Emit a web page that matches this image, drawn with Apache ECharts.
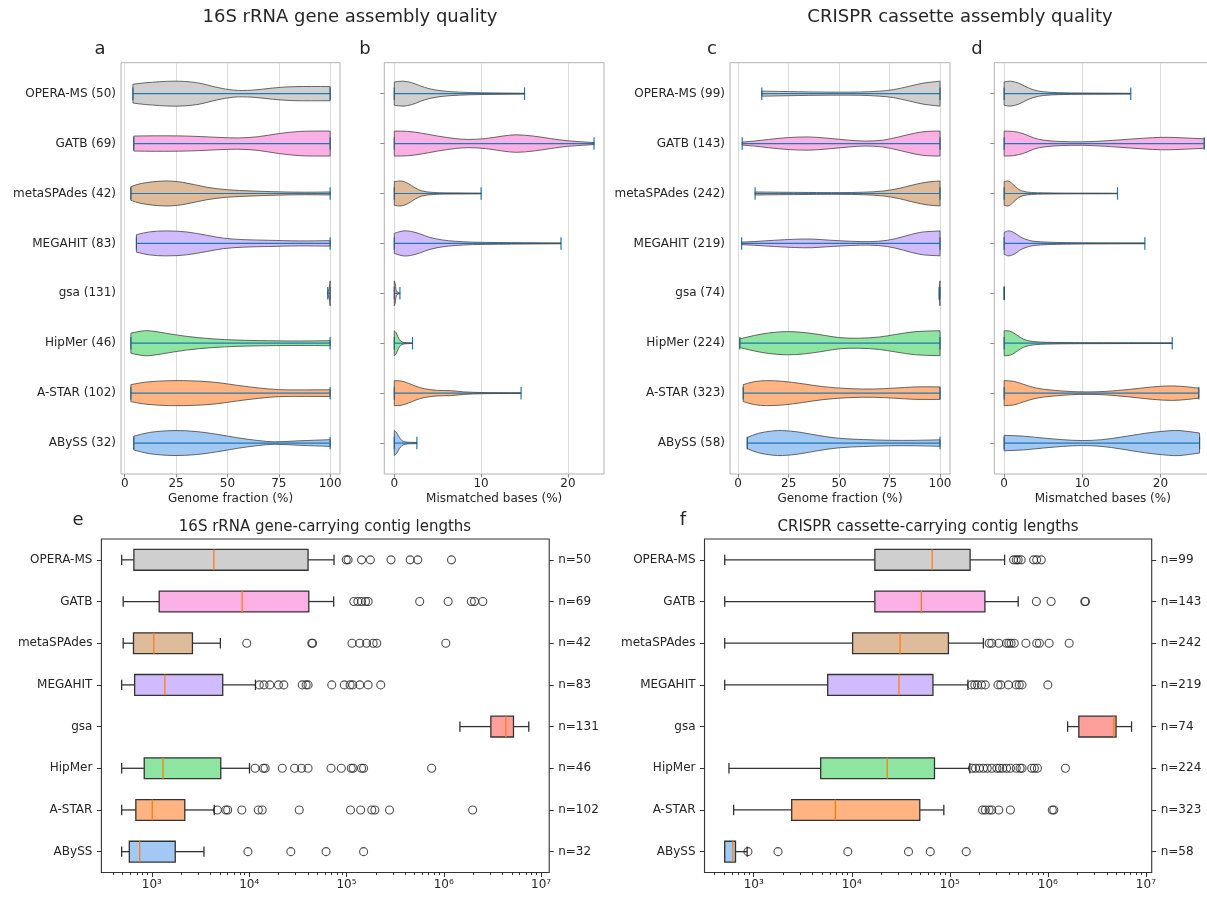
<!DOCTYPE html>
<html>
<head>
<meta charset="utf-8">
<script src="https://cdn.jsdelivr.net/npm/echarts@6/dist/echarts.min.js"></script>
<style>
  html, body { margin: 0; padding: 0; background: #ffffff; }
  #chart { width: 1207px; height: 897px; }
</style>
</head>
<body>
<div id="chart"></div>
<script>
// ---------------- data ----------------
const assemblers = ['OPERA-MS', 'GATB', 'metaSPAdes', 'MEGAHIT', 'gsa', 'HipMer', 'A-STAR', 'ABySS'];
const contigCounts16S = [50, 69, 42, 83, 131, 46, 102, 32];
const contigCountsCRISPR = [99, 143, 242, 219, 74, 224, 323, 58];

const fractionTicks = [0, 25, 50, 75, 100];
const mismatchTicks = [0, 10, 20];
const lengthTicks = [1e3, 1e4, 1e5, 1e6, 1e7];
const lengthTickLabels = ['10³', '10⁴', '10⁵', '10⁶', '10⁷'];

// violin profiles: [value, relative density] from the lowest to the highest observation
const fraction16S = [
  [[4, 0.75], [10, 0.87], [24, 1.0], [35, 0.88], [45, 0.5], [53, 0.28], [62, 0.28], [72, 0.45], [82, 0.56], [100, 0.57]],
  [[4.4, 0.6], [15, 0.62], [30, 0.6], [45, 0.5], [55, 0.45], [65, 0.55], [75, 0.8], [85, 0.97], [92, 1.0], [100, 1.0]],
  [[3, 0.55], [8, 0.8], [19, 1.0], [28, 0.9], [40, 0.5], [50, 0.3], [62, 0.2], [75, 0.13], [88, 0.1], [100, 0.12]],
  [[5.7, 0.7], [12, 0.92], [20, 1.0], [30, 0.92], [40, 0.65], [48, 0.42], [58, 0.3], [70, 0.25], [85, 0.2], [100, 0.22]],
  [[98.8, 0.05], [99.5, 0.4], [100, 1.0]],
  [[3, 0.8], [8, 0.97], [12, 1.0], [20, 0.8], [30, 0.55], [42, 0.36], [55, 0.25], [70, 0.2], [85, 0.18], [100, 0.2]],
  [[3, 0.68], [10, 0.88], [22, 1.0], [35, 0.97], [45, 0.85], [55, 0.62], [65, 0.42], [75, 0.28], [88, 0.26], [100, 0.27]],
  [[4.4, 0.55], [12, 0.85], [24, 1.0], [35, 0.92], [45, 0.7], [55, 0.42], [65, 0.2], [73, 0.1], [85, 0.18], [100, 0.27]]
];
const mismatch16S = [
  [[0, 0.93], [1, 1.0], [2, 0.88], [3, 0.62], [4, 0.4], [5.5, 0.22], [7.5, 0.12], [10, 0.07], [12.5, 0.05], [15, 0.03]],
  [[0, 1.0], [1.5, 0.98], [3, 0.85], [5, 0.6], [7, 0.4], [8.5, 0.33], [10.5, 0.4], [12.5, 0.6], [14, 0.7], [16, 0.6], [18, 0.4], [20, 0.22], [23, 0.08]],
  [[0, 0.95], [0.8, 1.0], [1.6, 0.8], [2.4, 0.45], [3.2, 0.2], [4.5, 0.08], [6, 0.05], [8, 0.04], [10, 0.03]],
  [[0, 0.8], [1, 1.0], [2, 0.95], [3, 0.75], [4, 0.5], [5.5, 0.28], [7, 0.17], [9, 0.1], [12, 0.07], [15, 0.05], [19.2, 0.03]],
  [[0, 1.0], [0.1, 0.8], [0.2, 0.3], [0.35, 0.1], [0.65, 0.03]],
  [[0, 1.0], [0.2, 0.85], [0.4, 0.55], [0.6, 0.28], [0.9, 0.1], [1.4, 0.04], [2.1, 0.02]],
  [[0, 1.0], [0.8, 0.97], [1.6, 0.8], [2.5, 0.55], [3.5, 0.35], [5, 0.22], [6.5, 0.2], [8, 0.1], [10, 0.05], [12, 0.03], [14.6, 0.02]],
  [[0, 1.0], [0.25, 0.85], [0.5, 0.55], [0.75, 0.3], [1, 0.15], [1.5, 0.07], [2, 0.06], [2.6, 0.04]]
];
const fractionCRISPR = [
  [[11.7, 0.2], [20, 0.18], [30, 0.15], [40, 0.13], [50, 0.12], [60, 0.13], [70, 0.2], [77, 0.32], [85, 0.6], [92, 0.85], [100, 1.0]],
  [[2, 0.12], [8, 0.2], [15, 0.33], [25, 0.48], [35, 0.53], [45, 0.42], [55, 0.27], [63, 0.2], [72, 0.28], [80, 0.55], [88, 0.85], [94, 0.98], [100, 1.0]],
  [[8.4, 0.12], [20, 0.1], [35, 0.08], [50, 0.07], [62, 0.1], [72, 0.2], [80, 0.42], [87, 0.7], [94, 0.92], [100, 1.0]],
  [[1.7, 0.1], [8, 0.15], [18, 0.25], [28, 0.33], [36, 0.35], [46, 0.25], [56, 0.17], [65, 0.14], [74, 0.25], [82, 0.55], [90, 0.88], [100, 1.0]],
  [[99.6, 0.3], [100, 1.0]],
  [[0.8, 0.35], [8, 0.62], [15, 0.82], [24, 0.93], [33, 0.85], [42, 0.65], [50, 0.45], [60, 0.4], [70, 0.5], [78, 0.7], [88, 0.93], [100, 1.0]],
  [[2.5, 0.68], [8, 0.92], [14, 1.0], [22, 0.95], [32, 0.75], [42, 0.52], [55, 0.36], [67, 0.33], [77, 0.4], [88, 0.5], [100, 0.5]],
  [[4.5, 0.45], [10, 0.78], [17, 0.97], [22, 1.0], [30, 0.88], [40, 0.6], [50, 0.38], [62, 0.28], [75, 0.22], [88, 0.22], [100, 0.26]]
];
const mismatchCRISPR = [
  [[0, 0.93], [0.8, 1.0], [1.8, 0.85], [2.8, 0.55], [3.8, 0.3], [5, 0.15], [7, 0.08], [10, 0.05], [13, 0.04], [16.2, 0.03]],
  [[0, 1.0], [1.2, 0.97], [2.5, 0.78], [3.8, 0.45], [5, 0.28], [7, 0.17], [10, 0.14], [13, 0.22], [16, 0.35], [19, 0.47], [21, 0.5], [23.5, 0.44], [25.6, 0.38]],
  [[0, 0.95], [0.5, 1.0], [1.1, 0.75], [1.7, 0.4], [2.4, 0.18], [3.5, 0.08], [5, 0.05], [8, 0.03], [11, 0.03], [14.5, 0.02]],
  [[0, 0.88], [0.6, 1.0], [1.3, 0.85], [2, 0.55], [2.8, 0.32], [3.8, 0.17], [5.5, 0.1], [8, 0.06], [12, 0.04], [18, 0.03]],
  [[0, 0.55], [0.03, 0.45]],
  [[0, 1.0], [0.7, 0.97], [1.4, 0.75], [2.1, 0.45], [2.8, 0.25], [3.8, 0.13], [5.5, 0.07], [9, 0.04], [14, 0.03], [21.5, 0.02]],
  [[0, 1.0], [1.2, 0.95], [2.5, 0.7], [4, 0.42], [6, 0.25], [8.5, 0.13], [10.5, 0.1], [13, 0.14], [16, 0.3], [19, 0.5], [21.5, 0.58], [23.5, 0.5], [24.9, 0.4]],
  [[0, 0.62], [2.5, 0.55], [5, 0.4], [7.5, 0.27], [10, 0.2], [12.5, 0.27], [15, 0.48], [18, 0.78], [21, 0.98], [22.5, 1.0], [25, 0.8]]
];

// box statistics: [lower whisker, Q1, median, Q3, upper whisker] in bp
const lengthStats16S = [
  [489, 653, 4335, 40270, 74500],
  [507, 1189, 8475, 41000, 73800],
  [507, 647, 1047, 2612, 5058],
  [489, 665, 1361, 5346, 11600],
  [1466000, 3050000, 4350000, 5210000, 7480000],
  [489, 834, 1300, 5105, 10070],
  [489, 684, 1009, 2178, 4375],
  [489, 586, 748, 1738, 3428]
];
const lengthOutliers16S = [
  [99600, 104000, 143000, 176000, 287000, 452000, 541000, 1200000],
  [119000, 131000, 143000, 157000, 167000, 566000, 1110000, 1920000, 2070000, 2520000],
  [9440, 44000, 44900, 114000, 137000, 161000, 188000, 205000, 1050000],
  [12700, 14200, 16300, 20000, 22700, 35100, 38500, 40300, 70600, 95000, 109000, 116000, 137000, 167000, 225000],
  [],
  [11500, 14000, 14600, 21900, 29300, 34500, 40300, 69400, 88500, 112000, 117000, 143000, 150000, 750000],
  [4710, 5750, 6010, 8400, 12400, 13600, 32700, 110000, 140000, 182000, 196000, 277000, 1980000],
  [9710, 26800, 61700, 150000]
];
const lengthStatsCRISPR = [
  [506, 17200, 66100, 161000, 362000],
  [506, 17200, 51300, 228000, 498000],
  [506, 10200, 31100, 96800, 220000],
  [506, 5680, 30300, 67300, 153000],
  [1590000, 2070000, 4700000, 4960000, 7140000],
  [559, 4820, 23000, 69800, 160000],
  [624, 2440, 6810, 49400, 86900],
  [506, 506, 612, 652, 857]
];
const lengthOutliersCRISPR = [
  [447000, 476000, 498000, 535000, 716000, 770000, 858000],
  [764000, 1080000, 2380000, 2420000],
  [252000, 268000, 316000, 379000, 400000, 422000, 454000, 597000, 770000, 820000, 1030000, 1650000],
  [167000, 180000, 192000, 210000, 230000, 310000, 331000, 396000, 476000, 511000, 545000, 1000000],
  [],
  [170000, 183000, 200000, 220000, 241000, 268000, 302000, 322000, 346000, 379000, 415000, 476000, 521000, 545000, 684000, 729000, 783000, 1510000],
  [216000, 230000, 252000, 268000, 316000, 415000, 1110000, 1150000],
  [873, 1770, 9120, 37900, 63200, 147000]
];

// ---------------- styling ----------------
const FONT = 'DejaVu Sans';
const TEXT = '#262626';
const palette = ['#cfcfcf', '#fab0e4', '#debb9b', '#d0bbff', '#ff9f9b', '#8de5a1', '#ffb482', '#a1c9f4'];
const rowIdx = assemblers.map((_, i) => i);

// minor ticks of the log axes (2..9 times each power of ten)
const minorLengthTicks = [];
for (let e = 2; e <= 6; e++) {
  for (let m = 2; m <= 9; m++) minorLengthTicks.push(m * Math.pow(10, e));
}

const chart = echarts.init(document.getElementById('chart'), null, { renderer: 'canvas' });

function violinRenderer(profiles) {
  return function (params, api) {
    const row = api.value(1);
    const prof = profiles[row];
    const half = 0.25;
    const top = prof.map(p => api.coord([p[0], row - p[1] * half]));
    const bot = prof.map(p => api.coord([p[0], row + p[1] * half])).reverse();
    const pts = [top[0]].concat(top, [top[top.length - 1]], [bot[0]], bot, [bot[bot.length - 1]]);
    const lo = prof[0][0], hi = prof[prof.length - 1][0];
    const a = api.coord([lo, row]), b = api.coord([hi, row]);
    const capLen = 0.125;
    const c1 = api.coord([lo, row - capLen]), c2 = api.coord([lo, row + capLen]);
    const c3 = api.coord([hi, row - capLen]), c4 = api.coord([hi, row + capLen]);
    const blue = '#1f77b4';
    return {
      type: 'group',
      children: [
        { type: 'polygon', shape: { points: pts, smooth: 0.35 }, style: { fill: palette[row], stroke: null } },
        { type: 'line', shape: { x1: a[0], y1: a[1], x2: b[0], y2: b[1] }, style: { stroke: blue, lineWidth: 1.2 } },
        { type: 'line', shape: { x1: c1[0], y1: c1[1], x2: c2[0], y2: c2[1] }, style: { stroke: blue, lineWidth: 1.2 } },
        { type: 'line', shape: { x1: c3[0], y1: c3[1], x2: c4[0], y2: c4[1] }, style: { stroke: blue, lineWidth: 1.2 } },
        { type: 'polygon', shape: { points: pts, smooth: 0.35 }, style: { fill: null, stroke: 'rgba(70,70,70,0.8)', lineWidth: 1 } }
      ]
    };
  };
}

function boxRenderer(stats) {
  return function (params, api) {
    const row = api.value(1);
    const s = stats[row];
    const hb = 0.25, hc = 0.125;
    const p = (v, dy) => api.coord([v, row + dy]);
    const edge = '#333333';
    const ln = (u, w, color, width) => ({
      type: 'line', shape: { x1: u[0], y1: u[1], x2: w[0], y2: w[1] },
      style: { stroke: color || edge, lineWidth: width || 1.3 }
    });
    const q1t = p(s[1], -hb), q3b = p(s[3], hb);
    return {
      type: 'group',
      children: [
        ln(p(s[0], 0), p(s[1], 0)),
        ln(p(s[3], 0), p(s[4], 0)),
        ln(p(s[0], -hc), p(s[0], hc)),
        ln(p(s[4], -hc), p(s[4], hc)),
        { type: 'rect', shape: { x: q1t[0], y: q1t[1], width: q3b[0] - q1t[0], height: q3b[1] - q1t[1] },
          style: { fill: palette[row], stroke: edge, lineWidth: 1.3 } },
        ln(p(s[2], -hb), p(s[2], hb), '#ff7f0e', 1.3)
      ]
    };
  };
}

const topGridBase = { top: 62.7, height: 411.3, show: true, borderColor: '#b3b3b3', borderWidth: 1, containLabel: false, outerBoundsMode: 'none' };
const botGridBase = { top: 539, height: 333.5, show: true, borderColor: '#333333', borderWidth: 1.1, containLabel: false, outerBoundsMode: 'none' };

const grids = [
  Object.assign({ left: 121, width: 219 }, topGridBase),
  Object.assign({ left: 384.3, width: 219.7 }, topGridBase),
  Object.assign({ left: 730, width: 220 }, topGridBase),
  Object.assign({ left: 994.3, width: 217 }, topGridBase),
  Object.assign({ left: 101.4, width: 447.8 }, botGridBase),
  Object.assign({ left: 704.5, width: 447.2 }, botGridBase)
];

const labelStyle = { fontFamily: FONT, fontSize: 12, color: TEXT };
const hiddenLine = { show: false, onZero: false };

function topX(gridIndex, min, max, ticks, name) {
  return {
    type: 'value', gridIndex, min, max, name, nameLocation: 'middle', nameGap: 19, position: 'bottom',
    nameTextStyle: labelStyle,
    axisLine: hiddenLine,
    axisTick: { show: true, length: 3.5, customValues: ticks, lineStyle: { color: '#8c8c8c' } },
    axisLabel: Object.assign({ customValues: ticks, margin: 4 }, labelStyle),
    splitLine: { show: true, lineStyle: { color: '#dcdcdc', width: 1 } }
  };
}
function topY(gridIndex, labels) {
  return {
    type: 'value', gridIndex, min: -0.62, max: 7.62, inverse: true, position: 'left',
    axisLine: hiddenLine, splitLine: { show: false },
    axisTick: { show: !labels, length: 4, customValues: rowIdx, lineStyle: { color: '#8c8c8c' } },
    axisLabel: Object.assign({ show: !!labels, customValues: rowIdx, margin: 5,
      formatter: v => (labels ? labels[Math.round(v)] : '') }, labelStyle)
  };
}
function logX(gridIndex, min, max) {
  return {
    type: 'log', logBase: 10, gridIndex, min, max, position: 'bottom',
    axisLine: hiddenLine, splitLine: { show: false }, minorSplitLine: { show: false },
    axisTick: { show: true, length: 4.5, customValues: lengthTicks, lineStyle: { color: '#333' } },
    axisLabel: Object.assign({ customValues: lengthTicks, margin: 6,
      formatter: v => lengthTickLabels[Math.round(Math.log10(v)) - 3] || '' }, labelStyle)
  };
}
function logXMinor(gridIndex, min, max) {
  return {
    type: 'log', logBase: 10, gridIndex, min, max, position: 'bottom',
    axisLine: hiddenLine, splitLine: { show: false },
    axisTick: { show: true, length: 2.5, customValues: minorLengthTicks, lineStyle: { color: '#333' } },
    axisLabel: { show: false }
  };
}
function boxY(gridIndex, position, labels, margin) {
  return {
    type: 'value', gridIndex, min: -0.5, max: 7.5, inverse: true, position,
    axisLine: hiddenLine, splitLine: { show: false },
    axisTick: { show: true, length: 4.5, customValues: rowIdx, lineStyle: { color: '#333' } },
    axisLabel: Object.assign({ customValues: rowIdx, margin,
      formatter: v => labels[Math.round(v)] }, labelStyle)
  };
}

const violinPanels = [fraction16S, mismatch16S, fractionCRISPR, mismatchCRISPR];
const series = [];
violinPanels.forEach((prof, gi) => {
  series.push({
    type: 'custom', xAxisIndex: gi, yAxisIndex: gi, silent: true,
    renderItem: violinRenderer(prof),
    data: prof.map((p, i) => [p[0][0], i])
  });
});
[[lengthStats16S, lengthOutliers16S, 4], [lengthStatsCRISPR, lengthOutliersCRISPR, 5]].forEach(([stats, outs, gi]) => {
  series.push({
    type: 'custom', xAxisIndex: gi, yAxisIndex: gi, silent: true,
    renderItem: boxRenderer(stats),
    data: stats.map((s, i) => [s[2], i])
  });
  const pts = [];
  outs.forEach((arr, i) => arr.forEach(v => pts.push([v, i])));
  series.push({
    type: 'scatter', xAxisIndex: gi, yAxisIndex: gi, silent: true,
    symbol: 'circle', symbolSize: 8,
    itemStyle: { color: 'rgba(0,0,0,0)', borderColor: '#222', borderWidth: 1.1 },
    data: pts
  });
});

const txt = (x, y, text, size) => ({
  type: 'text', x, y, silent: true,
  style: { text, fontFamily: FONT, fontSize: size, fill: TEXT, align: 'center', verticalAlign: 'middle' }
});

const option = {
  animation: false,
  backgroundColor: '#ffffff',
  grid: grids,
  xAxis: [
    topX(0, -1.8, 104.8, fractionTicks, 'Genome fraction (%)'),
    topX(1, -1.15, 24.15, mismatchTicks, 'Mismatched bases (%)'),
    topX(2, -4.05, 104.95, fractionTicks, 'Genome fraction (%)'),
    topX(3, -1.26, 26.5, mismatchTicks, 'Mismatched bases (%)'),
    logX(4, 302.7, 1.213e7),
    logX(5, 314.8, 1.146e7),
    logXMinor(4, 302.7, 1.213e7),
    logXMinor(5, 314.8, 1.146e7)
  ],
  yAxis: [
    topY(0, assemblers.map((a, i) => a + ' (' + contigCounts16S[i] + ')')),
    topY(1, null),
    topY(2, assemblers.map((a, i) => a + ' (' + contigCountsCRISPR[i] + ')')),
    topY(3, null),
    boxY(4, 'left', assemblers, 9),
    boxY(5, 'left', assemblers, 9),
    boxY(4, 'right', contigCounts16S.map(n => 'n=' + n), 9),
    boxY(5, 'right', contigCountsCRISPR.map(n => 'n=' + n), 9)
  ],
  series,
  graphic: [
    txt(350, 17, '16S rRNA gene assembly quality', 18),
    txt(960, 17, 'CRISPR cassette assembly quality', 18),
    txt(100, 49, 'a', 18),
    txt(365, 49, 'b', 18),
    txt(712, 49, 'c', 18),
    txt(977, 49, 'd', 18),
    txt(78, 520, 'e', 18),
    txt(683, 520, 'f', 18),
    txt(325, 527, '16S rRNA gene-carrying contig lengths', 15),
    txt(928, 527, 'CRISPR cassette-carrying contig lengths', 15)
  ]
};
chart.setOption(option);
</script>
</body>
</html>
